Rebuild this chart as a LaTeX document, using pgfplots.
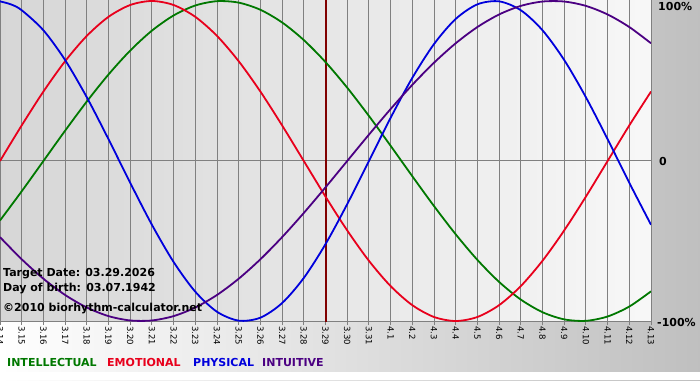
\documentclass[border=0pt]{standalone}
\usepackage{pgfplots}
\pgfplotsset{compat=1.18}
\usepackage{fontspec}
\setmainfont{DejaVu Sans}
\definecolor{cint}{HTML}{007800}
\definecolor{cemo}{HTML}{E8001C}
\definecolor{cphy}{HTML}{0000DC}
\definecolor{cintu}{HTML}{4B0082}
\definecolor{gridc}{HTML}{808080}
\definecolor{tline}{HTML}{800000}
\begin{document}
\begin{tikzpicture}[x=1pt,y=1pt]
\fill[left color=white, right color=black!25] (0,0) rectangle (700,380);
\fill[white] (0,0) rectangle (700,8);
\useasboundingbox (0,0) rectangle (700,380);
\begin{axis}[at={(0pt,59pt)}, anchor=south west, scale only axis,
  width=651pt, height=321pt,
  xmin=-15, xmax=15, ymin=-1, ymax=1.00625,
  axis background/.style={shade, left color=black!16, right color=black!3},
  axis line style={gridc, line width=1pt},
  xtick={-15,...,15},
  xticklabels={3.14,3.15,3.16,3.17,3.18,3.19,3.20,3.21,3.22,3.23,3.24,3.25,3.26,3.27,3.28,3.29,3.30,3.31,4.1,4.2,4.3,4.4,4.5,4.6,4.7,4.8,4.9,4.10,4.11,4.12,4.13},
  xtick pos=left, tick align=outside, major tick length=4pt,
  xtick style={gridc, line width=1pt},
  xmajorgrids, major grid style={gridc, line width=1pt},
  ytick=\empty,
  xticklabel style={rotate=-90, anchor=west, inner sep=1pt,
    font=\fontsize{8.5}{10}\selectfont, /pgf/number format/assume math mode=true},
  every axis plot/.append style={line width=1.8pt, smooth, no marks},
]
\draw[gridc, line width=1pt] (axis cs:-15,0) -- (axis cs:15,0);
\draw[tline, line width=2pt] (axis cs:0,-1.1) -- (axis cs:0,1.1);
% Intellectual
\addplot[cint] coordinates {
(-15,-0.3717) (-14,-0.1893) (-13,0) (-12,0.1893) (-11,0.3717) (-10,0.5406)
(-9,0.6901) (-8,0.8146) (-7,0.9096) (-6,0.9718) (-5,0.9989) (-4,0.9898)
(-3,0.9450) (-2,0.8660) (-1,0.7557) (0,0.6182) (1,0.4582) (2,0.2817)
(3,0.0951) (4,-0.0951) (5,-0.2817) (6,-0.4582) (7,-0.6182) (8,-0.7557)
(9,-0.8660) (10,-0.9450) (11,-0.9898) (12,-0.9989) (13,-0.9718) (14,-0.9096) (15,-0.8146)};
% Emotional
\addplot[cemo] coordinates {
(-15,0) (-14,0.2225) (-13,0.4339) (-12,0.6235) (-11,0.7818) (-10,0.9010)
(-9,0.9749) (-8,1) (-7,0.9749) (-6,0.9010) (-5,0.7818) (-4,0.6235)
(-3,0.4339) (-2,0.2225) (-1,0) (0,-0.2225) (1,-0.4339) (2,-0.6235)
(3,-0.7818) (4,-0.9010) (5,-0.9749) (6,-1) (7,-0.9749) (8,-0.9010)
(9,-0.7818) (10,-0.6235) (11,-0.4339) (12,-0.2225) (13,0) (14,0.2225) (15,0.4339)};
% Physical
\addplot[cphy] coordinates {
(-15,0.9977) (-14.5,0.9791) (-14,0.9423) (-13,0.8170) (-12,0.6311) (-11,0.3984) (-10,0.1362)
(-9,-0.1362) (-8,-0.3984) (-7,-0.6311) (-6,-0.8170) (-5,-0.9423) (-4,-0.9977)
(-3,-0.9791) (-2,-0.8879) (-1,-0.7308) (0,-0.5196) (1,-0.2698) (2,0)
(3,0.2698) (4,0.5196) (5,0.7308) (6,0.8879) (7,0.9791) (8,0.9977)
(9,0.9423) (10,0.8170) (11,0.6311) (12,0.3984) (13,0.1362) (14,-0.1362) (15,-0.3984)};
% Intuitive
\addplot[cintu] coordinates {
(-15,-0.4759) (-14,-0.6142) (-13,-0.7357) (-12,-0.8372) (-11,-0.9158) (-10,-0.9694)
(-9,-0.9966) (-8,-0.9966) (-7,-0.9694) (-6,-0.9158) (-5,-0.8372) (-4,-0.7357)
(-3,-0.6142) (-2,-0.4759) (-1,-0.3247) (0,-0.1646) (1,0) (2,0.1646)
(3,0.3247) (4,0.4759) (5,0.6142) (6,0.7357) (7,0.8372) (8,0.9158)
(9,0.9694) (10,0.9966) (11,0.9966) (12,0.9694) (13,0.9158) (14,0.8372) (15,0.7357)};
\end{axis}
\begin{scope}[every node/.style={anchor=base west, inner sep=0pt, font=\bfseries\fontsize{11}{13}\selectfont}]
\node at (3,103) {Target Date: 03.29.2026};
\node at (3,89) {Day of birth: 03.07.1942};
\node at (3,69) {©2010 biorhythm-calculator.net};
\node at (658,369) {100\%};
\node at (659,214) {0};
\node at (657,54) {-100\%};
\node[text=cint] at (7,14) {INTELLECTUAL};
\node[text=cemo] at (107,14) {EMOTIONAL};
\node[text=cphy] at (193,14) {PHYSICAL};
\node[text=cintu] at (262,14) {INTUITIVE};
\end{scope}
\end{tikzpicture}
\end{document}
